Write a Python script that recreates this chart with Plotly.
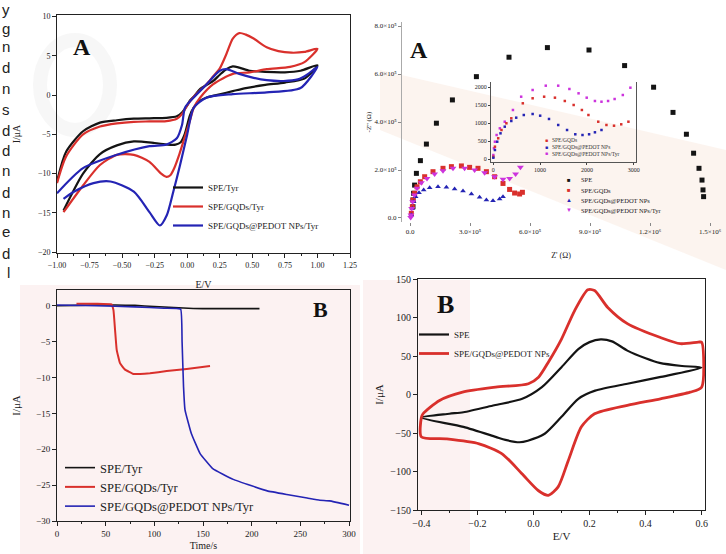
import plotly.graph_objects as go

W, H = 726, 554
SERIF = "Liberation Serif, Times New Roman, serif"
SANS = "Liberation Sans, Arial, sans-serif"

BLACK = "#141414"
RED = "#d9302c"
BLUE = "#2424b4"
MAGENTA = "#cc33dd"

# ---------------- Panel A (left): cyclic voltammetry with Tyr ----------------
cvA_names = ["SPE/Tyr", "SPE/GQDs/Tyr", "SPE/GQDs@PEDOT NPs/Tyr"]
cvA_black_E = [-1.0, -0.93, -0.80, -0.67, -0.54, -0.41, -0.29, -0.16, -0.08, -0.04, 0.0, 0.02, 0.05, 0.10,
               0.15, 0.20, 0.25, 0.30, 0.35, 0.40, 0.48, 0.60, 0.75, 0.87, 1.0,
               0.90, 0.75, 0.60, 0.45, 0.35, 0.25, 0.15, 0.10, 0.05, 0.02, -0.02, -0.05, -0.09, -0.15,
               -0.25, -0.41, -0.54, -0.67, -0.80, -0.95]
cvA_black_I = [-11.0, -7.2, -4.6, -3.5, -3.2, -3.0, -2.95, -2.9, -2.7, -2.2, -1.3, -0.7, -0.2, 0.8,
               1.3, 1.8, 2.6, 3.3, 3.65, 3.5, 3.1, 2.95, 2.9, 3.1, 3.8,
               2.1, 1.6, 1.3, 0.9, 0.5, 0.1, -0.3, -0.7, -1.6, -2.6, -5.0, -6.0, -6.3, -6.3,
               -6.1, -5.9, -6.4, -7.5, -10.0, -14.7]
cvA_red_E = [-1.0, -0.93, -0.80, -0.67, -0.54, -0.41, -0.29, -0.16, -0.08, -0.04, 0.0, 0.05, 0.10, 0.15,
             0.20, 0.25, 0.30, 0.35, 0.40, 0.45, 0.51, 0.61, 0.70, 0.80, 0.90, 1.0,
             0.90, 0.79, 0.61, 0.48, 0.35, 0.20, 0.10, 0.05, 0.02, -0.02, -0.06, -0.10, -0.13, -0.16,
             -0.20, -0.29, -0.41, -0.54, -0.67, -0.80, -0.95]
cvA_red_I = [-11.2, -7.8, -5.0, -4.0, -3.6, -3.4, -3.35, -3.3, -3.0, -2.4, -1.3, -0.2, 0.6, 1.4,
             2.4, 3.4, 5.2, 7.2, 7.9, 7.7, 7.2, 6.1, 5.6, 5.4, 5.5, 5.9,
             4.2, 3.6, 3.3, 2.9, 2.7, 1.4, -0.3, -1.6, -3.3, -5.4, -7.5, -9.3, -10.2, -10.4,
             -10.0, -8.5, -7.6, -7.6, -8.9, -11.5, -14.9]
cvA_blue_E = [-1.0, -0.80, -0.54, -0.29, -0.16, -0.08, -0.04, -0.017, 0.05, 0.15, 0.25, 0.30, 0.40, 0.51,
              0.61, 0.74, 0.85, 0.92, 1.0,
              0.87, 0.61, 0.35, 0.15, 0.05, 0.0, -0.055, -0.107, -0.157, -0.21, -0.29, -0.41, -0.59,
              -0.72, -0.87, -0.95]
cvA_blue_I = [-12.5, -9.3, -7.6, -6.5, -6.3, -5.5, -3.8, -1.6, -0.3, 1.4, 3.1, 3.3, 2.7, 2.2,
              1.9, 1.8, 2.0, 2.6, 3.6,
              0.9, 0.35, 0.13, -0.3, -1.6, -5.0, -8.9, -12.3, -15.3, -16.6, -14.9, -12.3, -11.0,
              -11.2, -12.3, -13.2]

# ---------------- Panel A (right): Nyquist plots ----------------
nyq_names = ["SPE", "SPE/GQDs", "SPE/GQDs@PEDOT NPs", "SPE/GQDs@PEDOT NPs/Tyr"]
nyq_spe_x = [15000, 15000, 18000, 23000, 32000, 52000, 82000, 132000, 212000, 332000, 495000, 687000,
             895000, 1073000, 1218000, 1315000, 1382000, 1418000, 1445000, 1460000, 1465000, 1468000]
nyq_spe_y = [47000, 75000, 103000, 137000, 186000, 239000, 308000, 395000, 492000, 589000, 670000, 710000,
             700000, 635000, 545000, 440000, 349000, 270000, 207000, 158000, 117000, 89000]
nyq_gqd_x = [6700, 11700, 15000, 23300, 35000, 51700, 73300, 115000, 165000, 207000, 257000, 298000,
             340000, 382000, 423000, 465000, 498000, 523000, 548000, 562000]
nyq_gqd_y = [19600, 47000, 75000, 103000, 130000, 151000, 172000, 193000, 207000, 214000, 217000, 211000,
             207000, 193000, 172000, 144000, 119000, 104000, 100000, 107000]
nyq_pedot_x = [6700, 11700, 18300, 28300, 45000, 68300, 98300, 140000, 182000, 223000, 265000, 307000,
               348000, 382000, 415000, 448000, 465000]
nyq_pedot_y = [12500, 40000, 68000, 89000, 105000, 117000, 126000, 130000, 128000, 121000, 112500, 100000,
               86000, 75000, 72000, 79000, 89000]
nyq_tyr_x = [3300, 5000, 8300, 13300, 21700, 35000, 56700, 85000, 123000, 165000, 215000, 273000, 323000,
             373000, 423000, 465000, 498000, 528000, 552000]
nyq_tyr_y = [2000, 12500, 40000, 68000, 96000, 124000, 147000, 165000, 183000, 197000, 207000, 207000,
             200000, 189000, 172000, 161000, 165000, 183000, 211000]
nyq_xtick_vals = [0, 300000, 600000, 900000, 1200000, 1500000]
nyq_xtick_text = ["0.0", "3.0×10⁵", "6.0×10⁵", "9.0×10⁵", "1.2×10⁶", "1.5×10⁶"]
nyq_ytick_vals = [0, 200000, 400000, 600000, 800000]
nyq_ytick_text = ["0.0", "2.0×10⁵", "4.0×10⁵", "6.0×10⁵", "8.0×10⁵"]

# inset (zoom of the modified electrodes)
ins_names = ["SPE/GQDs", "SPE/GQDs@PEDOT NPs", "SPE/GQDs@PEDOT NPs/Tyr"]
ins_tyr_x = [0, 13, 34, 70, 139, 244, 419, 595, 840, 1121, 1387, 1626, 1822, 1996, 2172, 2312, 2453, 2593,
             2768, 2930]
ins_tyr_y = [114, 300, 483, 669, 855, 1038, 1363, 1732, 1918, 2038, 2038, 1946, 1826, 1705, 1613, 1593, 1613,
             1668, 1779, 1982]
ins_gqd_x = [0, 34, 104, 174, 279, 384, 630, 840, 1086, 1317, 1528, 1717, 1893, 2033, 2243, 2418, 2580, 2734,
             2888]
ins_gqd_y = [67, 345, 578, 808, 994, 1133, 1549, 1688, 1732, 1705, 1613, 1502, 1363, 1224, 1038, 947, 927, 966,
             1038]
ins_pedot_x = [0, 34, 83, 153, 244, 384, 489, 651, 840, 1001, 1190, 1387, 1576, 1752, 1906, 2047, 2172, 2312]
ins_pedot_y = [39, 253, 483, 716, 900, 1058, 1150, 1224, 1252, 1205, 1114, 947, 808, 689, 669, 689, 744, 808]

# ---------------- Panel B (left): amperometric response ----------------
amp_names = ["SPE/Tyr", "SPE/GQDs/Tyr", "SPE/GQDs@PEDOT NPs/Tyr"]
amp_black_t = [0, 20, 40, 60, 80, 100, 120, 140, 160, 180, 200, 208]
amp_black_I = [0.0, 0.05, 0.1, 0.1, 0.05, -0.1, -0.25, -0.38, -0.4, -0.4, -0.4, -0.4]
amp_red_t = [20, 40, 56, 58, 59.6, 61.3, 64.7, 69.9, 78.4, 85.3, 95.5, 112.7, 133.2, 157.2]
amp_red_I = [0.3, 0.3, 0.2, -0.6, -3.3, -6.1, -8.0, -8.9, -9.5, -9.5, -9.4, -9.1, -8.8, -8.4]
amp_blue_t = [0, 40, 80, 110, 127, 128.5, 130, 131.5, 138, 147, 160, 181, 200, 216, 236, 257, 270, 280, 300]
amp_blue_I = [0.1, 0.0, -0.15, -0.35, -0.47, -5.0, -11.3, -14.5, -17.8, -20.6, -22.7, -24.2, -25.1, -25.8,
              -26.3, -26.8, -27.1, -27.2, -27.8]

# ---------------- Panel B (right): CV of SPE vs SPE/GQDs@PEDOT NPs ----------------
cvB_names = ["SPE", "SPE/GQDs@PEDOT NPs"]
cvB_black_E = [-0.40, -0.30, -0.25, -0.14, -0.04, 0.03, 0.10, 0.16, 0.20, 0.24, 0.28, 0.335, 0.40, 0.45,
               0.53, 0.60, 0.45, 0.335, 0.22, 0.16, 0.10, 0.04, -0.02, -0.05, -0.10, -0.135, -0.25, -0.40]
cvB_black_I = [-30, -25, -23, -14, -5.6, 9.5, 35.5, 59, 68, 71.5, 69, 57, 47, 41,
               37, 35, 22.5, 14, 5, -5.6, -29, -51, -60, -62, -59, -55, -42, -30]
cvB_red_E = [-0.40, -0.394, -0.335, -0.253, -0.135, -0.018, 0.018, 0.053, 0.10, 0.147, 0.194, 0.218, 0.265,
             0.335, 0.453, 0.524, 0.588, 0.60, 0.60, 0.559, 0.453, 0.335, 0.218, 0.171, 0.124, 0.088, 0.053,
             0.018, -0.041, -0.112, -0.194, -0.312, -0.40, -0.40]
cvB_red_I = [-30, -25, -7.8, 3, 9.5, 14, 22.5, 42, 72, 109, 136, 135, 113,
             92, 74, 66, 68, 68, 9.5, 3, -5.6, -14, -25, -42, -86, -120, -131,
             -125, -103, -77, -64, -57.6, -55, -30]

# ---------------- side text (cut-off article text at the left edge) ----------------
side_letters = ["y", "g", "n", "d", "n", "s", "d", "d", "n", "d", "n", "e", "d", "l"]


def fx(p):
    return p / W


def fy(p):
    return 1 - p / H


fig = go.Figure()

for name, E, I, c in [(cvA_names[0], cvA_black_E, cvA_black_I, BLACK),
                      (cvA_names[1], cvA_red_E, cvA_red_I, RED),
                      (cvA_names[2], cvA_blue_E, cvA_blue_I, BLUE)]:
    fig.add_trace(go.Scatter(x=E, y=I, mode="lines", name=name, legend="legend",
                             line=dict(color=c, width=2.2, shape="spline", smoothing=0.7),
                             xaxis="x", yaxis="y"))

for name, X, Y, c, sym, sz in [(nyq_names[0], nyq_spe_x, nyq_spe_y, BLACK, "square", 5),
                               (nyq_names[1], nyq_gqd_x, nyq_gqd_y, RED, "square", 5),
                               (nyq_names[2], nyq_pedot_x, nyq_pedot_y, BLUE, "triangle-up", 5),
                               (nyq_names[3], nyq_tyr_x, nyq_tyr_y, MAGENTA, "triangle-down", 6)]:
    fig.add_trace(go.Scatter(x=X, y=Y, mode="markers", name=name, showlegend=False,
                             marker=dict(color=c, symbol=sym, size=sz, line=dict(width=0)),
                             xaxis="x2", yaxis="y2"))

for name, X, Y, c in [(ins_names[2], ins_tyr_x, ins_tyr_y, MAGENTA), (ins_names[0], ins_gqd_x, ins_gqd_y, RED),
                      (ins_names[1], ins_pedot_x, ins_pedot_y, BLUE)]:
    fig.add_trace(go.Scatter(x=X, y=Y, mode="markers", name=name, showlegend=False,
                             marker=dict(color=c, size=2.5, symbol="square"),
                             xaxis="x3", yaxis="y3"))

for name, T, I, c, w in [(amp_names[0], amp_black_t, amp_black_I, BLACK, 1.6),
                         (amp_names[1], amp_red_t, amp_red_I, RED, 2.0),
                         (amp_names[2], amp_blue_t, amp_blue_I, BLUE, 1.6)]:
    fig.add_trace(go.Scatter(x=T, y=I, mode="lines", name=name, legend="legend2",
                             line=dict(color=c, width=w, shape="spline", smoothing=0.3),
                             xaxis="x4", yaxis="y4"))

for name, E, I, c, w in [(cvB_names[0], cvB_black_E, cvB_black_I, BLACK, 2.2),
                         (cvB_names[1], cvB_red_E, cvB_red_I, RED, 2.8)]:
    fig.add_trace(go.Scatter(x=E, y=I, mode="lines", name=name, legend="legend3",
                             line=dict(color=c, width=w, shape="spline", smoothing=0.7),
                             xaxis="x5", yaxis="y5"))

box = dict(showline=True, linecolor="#222", linewidth=1, mirror=True, ticks="outside",
           ticklen=4, tickcolor="#222", showgrid=False, zeroline=False, automargin=False)
plain = dict(showgrid=False, zeroline=False, automargin=False)

layout = dict(
    width=W, height=H, margin=dict(l=0, r=0, t=0, b=0, autoexpand=False),
    paper_bgcolor="white", plot_bgcolor="rgba(0,0,0,0)",
    font=dict(family=SERIF, color="#222"),
    xaxis=dict(domain=[fx(57), fx(350)], range=[-1.0, 1.25], dtick=0.25, tick0=-1.0, tickformat=".2f",
               anchor="y", tickfont=dict(size=8), minor=dict(ticks="outside", ticklen=2, dtick=0.125),
               title=dict(text="E/V", font=dict(size=10), standoff=12), **box),
    yaxis=dict(domain=[fy(253), fy(15)], range=[-20.1, 10.2], dtick=5, anchor="x",
               tickfont=dict(size=8), title=dict(text="I/μA", font=dict(size=10), standoff=15), **box),
    xaxis2=dict(domain=[fx(402), fx(720)], range=[-40000, 1550000], anchor="y2",
                tickvals=nyq_xtick_vals, ticktext=nyq_xtick_text, tickfont=dict(size=7),
                showline=False, ticks="outside", ticklen=3, tickcolor="#888",
                title=dict(text="Z' (Ω)", font=dict(size=8), standoff=16), **plain),
    yaxis2=dict(domain=[fy(222), fy(22)], range=[-16700, 816700], anchor="x2",
                tickvals=nyq_ytick_vals, ticktext=nyq_ytick_text, tickfont=dict(size=7),
                showline=True, linecolor="#aaa", ticks="outside", ticklen=3, tickcolor="#888",
                title=dict(text="-Z'' (Ω)", font=dict(size=7), standoff=2), **plain),
    xaxis3=dict(domain=[fx(491), fx(636)], range=[-50, 3050], anchor="y3", dtick=1000,
                tickfont=dict(size=6), showline=True, linecolor="#555", ticks="outside", ticklen=2, **plain),
    yaxis3=dict(domain=[fy(162), fy(82)], range=[-80, 2140], anchor="x3", dtick=500,
                tickfont=dict(size=6), showline=True, linecolor="#555", mirror=True, ticks="outside",
                ticklen=2, **plain),
    xaxis4=dict(domain=[fx(57), fx(350)], range=[0, 301], dtick=50, anchor="y4",
                tickfont=dict(size=9), minor=dict(ticks="outside", ticklen=2, dtick=25),
                title=dict(text="Time/s", font=dict(size=10), standoff=4), **box),
    yaxis4=dict(domain=[fy(521), fy(290)], range=[-30, 2.2], dtick=5, anchor="x4",
                tickfont=dict(size=9), title=dict(text="I/μA", font=dict(size=11), standoff=13), **box),
    xaxis5=dict(domain=[fx(418), fx(705)], range=[-0.412, 0.612], dtick=0.2, tick0=-0.4, tickformat=".1f",
                anchor="y5", tickfont=dict(size=10), minor=dict(ticks="outside", ticklen=2, dtick=0.1),
                title=dict(text="E/V", font=dict(size=11), standoff=4), **box),
    yaxis5=dict(domain=[fy(510), fy(279)], range=[-150, 150], dtick=50, anchor="x5",
                tickfont=dict(size=10), title=dict(text="I/μA", font=dict(size=11), standoff=4), **box),
    legend=dict(x=fx(168), y=fy(173), xanchor="left", yanchor="top", font=dict(size=9),
                bgcolor="rgba(0,0,0,0)", itemwidth=30, tracegroupgap=0),
    legend2=dict(x=fx(60), y=fy(453), xanchor="left", yanchor="top", font=dict(size=12.5),
                 bgcolor="rgba(0,0,0,0)", itemwidth=30, tracegroupgap=0),
    legend3=dict(x=fx(414), y=fy(320), xanchor="left", yanchor="top", font=dict(size=9),
                 bgcolor="rgba(0,0,0,0)", itemwidth=30, tracegroupgap=0),
)
fig.update_layout(**layout)

# faint watermark-like tints of the source page
shapes = [
    dict(type="rect", xref="paper", yref="paper", x0=fx(20), x1=fx(360), y0=fy(554), y1=fy(285),
         fillcolor="rgba(225,130,130,0.10)", line=dict(width=0), layer="below"),
    dict(type="rect", xref="paper", yref="paper", x0=fx(363), x1=fx(470), y0=fy(554), y1=fy(280),
         fillcolor="rgba(225,130,130,0.10)", line=dict(width=0), layer="below"),
    dict(type="path", xref="paper", yref="paper",
         path="M %f %f L %f %f L %f %f L %f %f Z" % (fx(380), fy(70), fx(726), fy(150), fx(726), fy(270),
                                                    fx(380), fy(130)),
         fillcolor="rgba(240,205,180,0.22)", line=dict(width=0), layer="below"),
    dict(type="circle", xref="paper", yref="paper", x0=fx(40), x1=fx(110), y0=fy(130), y1=fy(40),
         line=dict(color="rgba(150,150,150,0.08)", width=14), layer="below"),
]
fig.update_layout(shapes=shapes)

ann = []
for txt, x, y, s in [("A", 82, 47, 24), ("A", 419, 50, 24), ("B", 320, 309, 22), ("B", 445, 304, 26)]:
    ann.append(dict(text="<b>" + txt + "</b>", x=fx(x), y=fy(y), xref="paper", yref="paper",
                    xanchor="center", yanchor="middle",
                    showarrow=False, font=dict(size=s, family=SERIF, color="#111")))
nyq_syms = ["■", "■", "▲", "▼"]
nyq_cols = [BLACK, RED, BLUE, MAGENTA]
for i, (s, c, n) in enumerate(zip(nyq_syms, nyq_cols, nyq_names)):
    yy = 180 + 10 * i
    ann.append(dict(text=s, x=fx(569), y=fy(yy), xref="paper", yref="paper", showarrow=False,
                    xanchor="center", yanchor="middle", borderpad=0, font=dict(size=6, color=c)))
    ann.append(dict(text=n, x=fx(580), y=fy(yy), xref="paper", yref="paper", showarrow=False,
                    xanchor="left", yanchor="middle", borderpad=0,
                    font=dict(size=6.5, family=SERIF, color="#222")))
for i, (n, c) in enumerate(zip(ins_names, [RED, BLUE, MAGENTA])):
    yy = 140 + 7 * i
    ann.append(dict(text="■", x=fx(546), y=fy(yy), xref="paper", yref="paper", showarrow=False,
                    xanchor="center", yanchor="middle", borderpad=0, font=dict(size=5, color=c)))
    ann.append(dict(text=n, x=fx(551), y=fy(yy), xref="paper", yref="paper", showarrow=False,
                    xanchor="left", yanchor="middle", borderpad=0,
                    font=dict(size=5.5, family=SERIF, color="#333")))
side_y = [9, 28, 47, 68, 88, 110, 130, 150, 171, 192, 212, 232, 253, 272]
for ch, yy in zip(side_letters, side_y):
    ann.append(dict(text=ch, x=fx(11), y=fy(yy), xref="paper", yref="paper", showarrow=False,
                    xanchor="right", yanchor="middle", borderpad=0,
                    font=dict(size=15, family=SANS, color="#222")))
fig.update_layout(annotations=ann)

fig.write_html("out.html", config={"displayModeBar": False},
               post_script="document.body.style.margin='0px';document.body.style.padding='0px';")
